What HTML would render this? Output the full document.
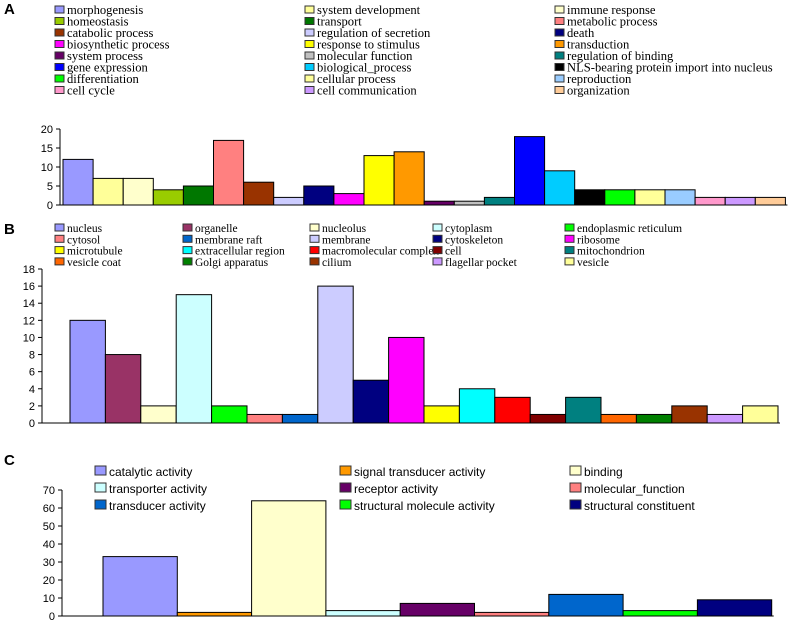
<!DOCTYPE html>
<html><head><meta charset="utf-8"><style>
body{margin:0;background:#fff;}
svg{display:block;}
.lg{font-family:"Liberation Serif",serif;font-size:11.5px;fill:#000;}
.lga{font-family:"Liberation Serif",serif;font-size:12.6px;fill:#000;}
.lc{font-family:"Liberation Sans",sans-serif;font-size:12px;fill:#000;}
.tk{font-family:"Liberation Sans",sans-serif;font-size:11px;fill:#000;}
.pl{font-family:"Liberation Sans",sans-serif;font-size:15px;font-weight:bold;}
</style></head><body>
<svg id="s" width="798" height="621">
<text class="pl" x="4" y="14">A</text>
<text class="pl" x="4" y="234">B</text>
<text class="pl" x="4" y="465">C</text>
</svg>
<script>
const catsA=["morphogenesis","system development","immune response","homeostasis","transport","metabolic process","catabolic process","regulation of secretion","death","biosynthetic process","response to stimulus","transduction","system process","molecular function","regulation of binding","gene expression","biological_process","NLS-bearing protein import into nucleus","differentiation","cellular process","reproduction","cell cycle","cell communication","organization"];
const valsA=[12,7,7,4,5,17,6,2,5,3,13,14,1,1,2,18,9,4,4,4,4,2,2,2];
const colsA=["#9999ff","#ffff99","#ffffcc","#99cc00","#007700","#ff8080","#993300","#ccccff","#000080","#ff00ff","#ffff00","#ff9900","#660066","#c0c0c0","#008080","#0000ff","#00ccff","#000000","#00ff00","#ffff99","#99ccff","#ff99cc","#cc99ff","#ffcc99"];
const ticksA=[0,5,10,15,20];
const catsB=["nucleus","organelle","nucleolus","cytoplasm","endoplasmic reticulum","cytosol","membrane raft","membrane","cytoskeleton","ribosome","microtubule","extracellular region","macromolecular complex","cell","mitochondrion","vesicle coat","Golgi apparatus","cilium","flagellar pocket","vesicle"];
const valsB=[12,8,2,15,2,1,1,16,5,10,2,4,3,1,3,1,1,2,1,2];
const colsB=["#9999ff","#993366","#ffffcc","#ccffff","#00ff00","#ff8080","#0066cc","#ccccff","#000080","#ff00ff","#ffff00","#00ffff","#ff0000","#800000","#008080","#ff6600","#008000","#993300","#cc99ff","#ffff99"];
const ticksB=[0,2,4,6,8,10,12,14,16,18];
const catsC=["catalytic activity","signal transducer activity","binding","transporter activity","receptor activity","molecular_function","transducer activity","structural molecule activity","structural constituent"];
const valsC=[33,2,64,3,7,2,12,3,9];
const colsC=["#9999ff","#ff9900","#ffffcc","#ccffff","#660066","#ff8080","#0066cc","#00ff00","#000080"];
const ticksC=[0,10,20,30,40,50,60,70];
const NS="http://www.w3.org/2000/svg";
const svg=document.getElementById('s');
function mk(t,a){const e=document.createElementNS(NS,t);for(const k in a)e.setAttribute(k,a[k]);svg.appendChild(e);return e;}
function legend(cats,cols,x0,dx,y0,dy,ncol,cls,sw,pfx){
 cats.forEach((c,i)=>{const x=x0[i%ncol],y=y0+Math.floor(i/ncol)*dy;
  const r=mk('rect',{x:x,y:y-sw+1,width:sw,height:sw-2,fill:cols[i],stroke:'#333','stroke-width':1});
  
  
  const t=mk('text',{x:x+sw+3,y:y,class:cls});t.textContent=c;
  
  
 });
}
function chart(vals,cols,ticks,ax,y0,y1,vmax,bx,bw,pfx){
 const ys=v=>y0-(v/vmax)*(y0-y1);
 const axl=mk('line',{x1:ax,y1:y1,x2:ax,y2:y0,stroke:'#000'});
 
 
 const xl=mk('line',{x1:ax,y1:y0,x2:bx+bw*vals.length+2,y2:y0,stroke:'#000'});
 
 
 ticks.forEach(t=>{mk('line',{x1:ax-4,y1:ys(t),x2:ax,y2:ys(t),stroke:'#000'});
  const tx=mk('text',{x:ax-7,y:ys(t)+4,class:'tk','text-anchor':'end'});tx.textContent=t;
  
  });
 vals.forEach((v,i)=>{const r=mk('rect',{x:bx+i*bw,y:ys(v),width:bw,height:y0-ys(v),fill:cols[i],stroke:'#000','stroke-width':1});
  
  });
}
legend(catsA,colsA,[55,305,555],0,14,11.5,3,'lga',9,'a');
chart(valsA,colsA,ticksA,60,205,129,20,63,30.1,'a');
legend(catsB,colsB,[55,183,310,433,565],0,232,11.3,5,'lg',9,'b');
chart(valsB,colsB,ticksB,42,423,269,18,70,35.4,'b');
legend(catsC,colsC,[95,340,570],0,476,17,3,'lc',11,'c');
chart(valsC,colsC,ticksC,62,616,490,70,103,74.3,'c');
</script>
</body></html>
